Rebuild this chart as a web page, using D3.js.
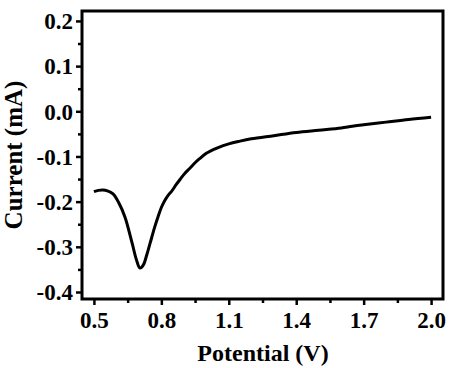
<!DOCTYPE html>
<html><head><meta charset="utf-8">
<script src="https://cdn.jsdelivr.net/npm/d3@7"></script>
<style>body{margin:0;background:#fff;} svg{display:block;}</style>
</head><body>
<script>
const potential = [0.50,0.52,0.54,0.56,0.585,0.61,0.638,0.67,0.69,0.705,0.72,0.735,0.75,0.77,0.785,0.80,0.816,0.83,0.847,0.865,0.883,0.905,0.927,0.95,0.97,1.00,1.05,1.10,1.15,1.20,1.30,1.40,1.50,1.60,1.65,1.70,1.80,1.90,2.00];
const current   = [-0.178,-0.175,-0.174,-0.176,-0.183,-0.202,-0.234,-0.292,-0.330,-0.347,-0.340,-0.318,-0.292,-0.257,-0.234,-0.213,-0.197,-0.186,-0.176,-0.163,-0.151,-0.137,-0.126,-0.114,-0.105,-0.093,-0.081,-0.072,-0.066,-0.061,-0.054,-0.047,-0.042,-0.037,-0.033,-0.030,-0.024,-0.018,-0.013];
const xTicks = [0.5,0.8,1.1,1.4,1.7,2.0];
const xMinor = [0.65,0.95,1.25,1.55,1.85];
const yTicks = [0.2,0.1,0.0,-0.1,-0.2,-0.3,-0.4];
const yMinor = [0.15,0.05,-0.05,-0.15,-0.25,-0.35];
const xLabel = "Potential (V)";
const yLabel = "Current (mA)";

const W=454,H=368;
const m={left:82,top:11,right:443,bottom:299};
const svg=d3.select("body").append("svg").attr("width",W).attr("height",H);
const x=d3.scaleLinear().domain([0.447,2.053]).range([m.left,m.right]);
const y=d3.scaleLinear().domain([-0.4155,0.222]).range([m.bottom,m.top]);
const font="'Liberation Serif','Times New Roman',serif";

svg.append("g").attr("transform",`translate(0,${m.bottom})`)
  .call(d3.axisBottom(x).tickValues(xMinor).tickSize(4).tickFormat(""));
const gx=svg.append("g").attr("transform",`translate(0,${m.bottom})`)
  .call(d3.axisBottom(x).tickValues(xTicks).tickSize(6).tickPadding(8).tickFormat(d3.format(".1f")));
svg.append("g").attr("transform",`translate(${m.left},0)`)
  .call(d3.axisLeft(y).tickValues(yMinor).tickSize(4).tickFormat(""));
const gy=svg.append("g").attr("transform",`translate(${m.left},0)`)
  .call(d3.axisLeft(y).tickValues(yTicks).tickSize(6).tickPadding(3).tickFormat(d=>d3.format(".1f")(d).replace("−","-")));
svg.selectAll(".domain").remove();
svg.selectAll(".tick line").attr("stroke","#000").attr("stroke-width",2.5);
svg.selectAll(".tick text").style("font-family",font).style("font-weight","bold").style("font-size","23px").attr("fill","#000");
gy.selectAll(".tick text").attr("dy","0.34em");
gx.selectAll(".tick text").attr("dy","0.64em");

svg.append("rect").attr("x",m.left).attr("y",m.top).attr("width",m.right-m.left).attr("height",m.bottom-m.top)
  .attr("fill","none").attr("stroke","#000").attr("stroke-width",3);

const line=d3.line().x((d,i)=>x(potential[i])).y((d,i)=>y(current[i])).curve(d3.curveCatmullRom);
svg.append("path").datum(current).attr("d",line).attr("fill","none").attr("stroke","#000").attr("stroke-width",3).attr("stroke-linejoin","round");

svg.append("text").attr("x",263).attr("y",361).attr("text-anchor","middle")
  .style("font-family",font).style("font-weight","bold").style("font-size","24px").text(xLabel);
svg.append("text").attr("transform",`translate(22,155) rotate(-90)`).attr("text-anchor","middle")
  .style("font-family",font).style("font-weight","bold").style("font-size","25px").text(yLabel);
</script>
</body></html>
